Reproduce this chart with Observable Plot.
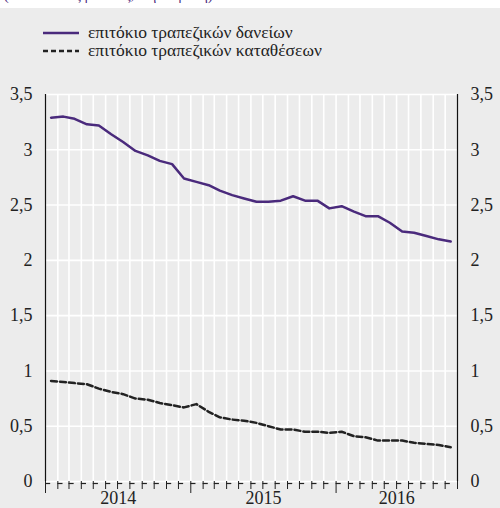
<!DOCTYPE html>
<html>
<head>
<meta charset="utf-8">
<script src="https://cdn.jsdelivr.net/npm/d3@7"></script>
<script src="https://cdn.jsdelivr.net/npm/@observablehq/plot@0.6"></script>
<style>
  html, body { margin: 0; padding: 0; background: #ececec; width: 500px; height: 508px; overflow: hidden; font-family: "Times New Roman", "Liberation Serif", Times, "DejaVu Serif", serif; }
  #top { height: 8px; background: #fff; overflow: hidden; position: relative; }
  #top span { position: absolute; left: 4px; top: -12px; font-size: 14px; color: #4a2a7c; }
  #legend { height: 60px; position: relative; font-size: 17.5px; color: #222; }
  .row { position: absolute; left: 43px; display: flex; align-items: center; height: 17px; line-height: 17px; }
  .row svg { margin-right: 9px; }
</style>
</head>
<body>
<div id="top"><span>(εκατοστιαίες μονάδες, ετήσια βάση)</span></div>
<div id="legend"></div>
<div id="chart"></div>
<script>
const months = ["2014-01","2014-02","2014-03","2014-04","2014-05","2014-06","2014-07","2014-08","2014-09","2014-10","2014-11","2014-12",
  "2015-01","2015-02","2015-03","2015-04","2015-05","2015-06","2015-07","2015-08","2015-09","2015-10","2015-11","2015-12",
  "2016-01","2016-02","2016-03","2016-04","2016-05","2016-06","2016-07","2016-08","2016-09","2016-10"];
const loans = [3.29,3.30,3.28,3.23,3.22,3.14,3.07,2.99,2.95,2.90,2.87,2.74,
  2.71,2.68,2.63,2.59,2.56,2.53,2.53,2.54,2.58,2.54,2.54,2.47,
  2.49,2.44,2.40,2.40,2.34,2.26,2.25,2.22,2.19,2.17];
const deposits = [0.91,0.90,0.89,0.88,0.84,0.81,0.79,0.75,0.74,0.71,0.69,0.67,
  0.70,0.63,0.58,0.56,0.55,0.53,0.50,0.47,0.47,0.45,0.45,0.44,
  0.45,0.41,0.40,0.37,0.37,0.37,0.35,0.34,0.33,0.31];
const seriesNames = ["επιτόκιο τραπεζικών δανείων", "επιτόκιο τραπεζικών καταθέσεων"];
const yTicks = [0, 0.5, 1, 1.5, 2, 2.5, 3, 3.5];
const yearLabels = ["2014", "2015", "2016"];

const purple = "#4a2a7c";
const dark = "#222";
const FONT = "'Times New Roman', 'Liberation Serif', Times, 'DejaVu Serif', serif";

// legend
const leg = document.getElementById("legend");
seriesNames.forEach((name, i) => {
  const row = document.createElement("div");
  row.className = "row";
  row.style.top = (i === 0 ? 16 : 34) + "px";
  const dash = i === 0 ? "" : 'stroke-dasharray="5,3"';
  row.innerHTML = `<svg width="36" height="10"><line x1="0" x2="36" y1="5" y2="5" stroke="${i === 0 ? purple : dark}" stroke-width="2.5" ${dash}/></svg><span>${name}</span>`;
  leg.appendChild(row);
});

const parse = d3.utcParse("%Y-%m");
const loanData = months.map((m, i) => ({date: d3.utcDay.offset(parse(m), 14), value: loans[i]}));
const depData = months.map((m, i) => ({date: d3.utcDay.offset(parse(m), 14), value: deposits[i]}));
const x0 = parse(months[0]);
const x1 = d3.utcMonth.offset(parse(months[months.length - 1]), 1);
const monthStarts = d3.utcMonth.range(x0, d3.utcMonth.offset(x1, 1)).filter(d => d <= x1);
const inner = monthStarts.slice(1, -1);
const yearLab = yearLabels.map(y => {
  const a = new Date(Math.max(+d3.utcParse("%Y")(y), +x0));
  const b = new Date(Math.min(+d3.utcParse("%Y")(String(+y + 1)), +x1));
  return {date: new Date((+a + +b) / 2), label: y};
});
const fmt = d => String(d).replace(".", ",");

const chart = Plot.plot({
  width: 500,
  height: 440,
  marginTop: 26,
  marginBottom: 27,
  marginLeft: 45,
  marginRight: 43,
  style: {background: "transparent", fontFamily: FONT, fontSize: "18px", color: "#222"},
  x: {type: "utc", domain: [x0, x1]},
  y: {domain: [0, 3.5]},
  marks: [
    Plot.ruleY(yTicks, {stroke: "white", strokeWidth: 1.6}),
    Plot.ruleX(inner, {y1: 0, y2: 3.5, stroke: "white", strokeWidth: 1.6}),
    Plot.ruleX([x0, x1], {y1: 0, y2: 3.5, stroke: "#111", strokeWidth: 1.2}),
    Plot.axisY({anchor: "left", ticks: yTicks, tickFormat: fmt, tickSize: 0, tickPadding: 13, label: null, fontSize: 18, fontFamily: FONT}),
    Plot.axisY({anchor: "right", ticks: yTicks, tickFormat: fmt, tickSize: 0, tickPadding: 13, label: null, fontSize: 18, fontFamily: FONT}),
    Plot.axisX({ticks: monthStarts.filter(d => d.getUTCMonth() !== 0), tickSize: 8, tickFormat: () => "", label: null, stroke: "#222"}),
    Plot.axisX({ticks: monthStarts.filter(d => d.getUTCMonth() === 0), tickSize: 12, tickFormat: () => "", label: null, stroke: "#222"}),
    Plot.ruleY(monthStarts.slice(0, -1), {y: 0, x1: d => d, x2: d => d3.utcDay.offset(d, 13), dy: 2, stroke: "#222", strokeWidth: 1.2}),
    Plot.text(yearLab, {x: "date", y: 0, text: "label", dy: 17, fontSize: 18, fill: "#222", fontFamily: FONT}),
    Plot.line(depData, {x: "date", y: "value", stroke: dark, strokeDasharray: "6,3", strokeWidth: 2.5}),
    Plot.line(loanData, {x: "date", y: "value", stroke: purple, strokeWidth: 2.5})
  ]
});
document.getElementById("chart").appendChild(chart);
</script>
</body>
</html>
